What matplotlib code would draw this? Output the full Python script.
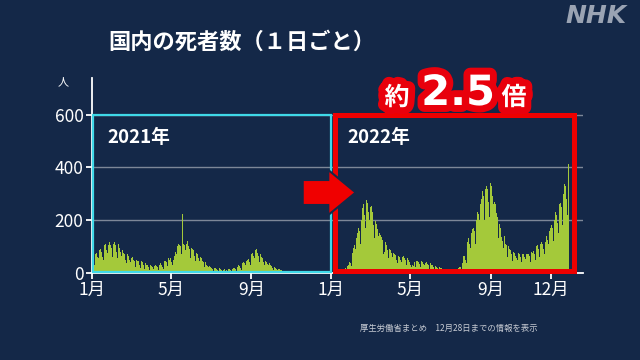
import numpy as np
import matplotlib
matplotlib.use("Agg")
import matplotlib.pyplot as plt
from matplotlib.patches import Rectangle, Polygon
import matplotlib.patheffects as pe

plt.rcParams['font.family'] = ['Noto Sans CJK JP', 'DejaVu Sans']

# daily deaths, one list per month
d2021 = [
    [55,45,40,30,65,70,75,70,60,55,40,85,90,95,80,70,60,50,100,105,110,95,85,75,55,105,115,120,105,95,80],
    [60,110,120,118,105,95,80,55,121,110,95,90,80,65,45,85,80,75,70,60,50,35,65,70,65,60,50,40],
    [25,55,60,55,50,45,35,20,50,55,45,45,40,30,18,45,45,40,35,30,25,15,35,35,30,30,25,20,12,30,28],
    [25,25,20,15,10,25,28,30,25,20,15,10,30,35,35,30,28,20,15,40,45,50,45,40,30,25,55,60,50,55],
    [45,40,30,45,50,65,70,80,70,55,100,110,115,105,100,85,70,225,115,110,105,95,85,60,110,120,115,100,90,80,55],
    [95,100,90,85,75,65,45,80,75,70,65,55,45,30,60,55,50,45,40,30,20,40,35,30,28,25,20,12,25,22],
    [20,18,15,12,8,18,20,17,15,14,10,6,15,16,14,12,10,8,5,12,14,10,8,9,8,6,12,15,14,13,10],
    [8,5,15,18,20,18,15,12,8,20,25,28,25,22,18,12,30,35,40,38,35,28,20,45,50,55,52,45,40,30,60],
    [70,75,70,65,55,40,85,90,80,75,65,55,40,70,65,60,55,45,40,28,50,45,40,38,32,28,18,35,32,28],
    [25,22,18,12,22,20,18,16,14,12,8,14,13,12,10,9,7,4,8,7,6,5,5,4,2,5,4,4,3,3,2],
    [1,3,2,3,2,2,1,0,3,2,2,2,1,1,0,2,2,1,2,1,1,0,1,2,1,2,1,1,0,2],
    [1,2,1,1,0,0,2,1,2,1,1,0,0,2,1,1,1,1,0,0,1,2,1,1,2,1,0,2,1,2,1],
]
d2022 = [
    [1,1,0,2,1,2,3,2,2,1,3,4,5,6,5,4,3,8,12,15,18,16,14,10,25,30,35,40,38,35,25],
    [60,75,95,110,105,90,65,130,150,165,170,160,140,110,200,230,245,260,240,220,170,270,278,265,250,230,200,150],
    [250,255,245,230,210,180,130,200,195,185,180,165,140,100,150,145,140,135,125,105,70,80,110,115,105,100,85,55,95,90,85],
    [80,75,60,40,75,78,72,68,60,50,35,65,62,60,58,50,42,30,58,62,58,55,48,40,28,55,52,50,40,35],
    [30,20,30,28,25,35,40,35,22,45,50,45,42,38,32,20,42,45,40,38,32,28,18,38,40,36,34,30,25,15,35],
    [32,30,28,25,20,12,28,26,24,22,18,15,8,22,20,18,16,14,12,6,15,14,12,11,10,8,5,10,9,10],
    [9,8,6,4,10,12,11,10,9,8,5,14,18,20,22,20,18,12,35,50,62,65,58,50,35,95,115,131,125,110,95],
    [70,150,165,175,170,160,140,110,200,220,230,244,225,200,150,260,280,295,312,290,260,200,320,335,330,320,300,270,210,347,340],
    [330,310,290,260,180,270,260,240,226,210,180,130,190,185,170,155,137,120,80,95,140,125,110,105,95,60,100,95,90,85],
    [80,70,45,80,78,75,72,65,55,35,50,75,78,72,68,60,40,75,72,70,68,60,52,38,70,72,75,70,62,55,40],
    [80,85,75,82,78,70,50,95,100,105,98,90,80,60,110,113,115,110,100,90,70,125,115,140,135,125,110,90,160,170],
    [188,180,170,150,120,200,215,230,220,210,190,150,245,260,270,265,250,230,180,300,310,338,330,310,280,220,345,415],
]
tick_days = [0, 120, 243, 365, 485, 608, 699]
tick_labels = ['1月', '5月', '9月', '1月', '5月', '9月', '12月']
y_ticks = [0, 200, 400, 600]

deaths = [v for m in d2021 + d2022 for v in m]
days = np.arange(len(deaths))

bg = '#142848'
W, H = 640, 360

fig = plt.figure(figsize=(6.4, 3.6), dpi=100)
fig.patch.set_facecolor(bg)
ax = fig.add_axes([92 / W, (H - 272.7) / H, (583 - 92) / W, (272.7 - 78) / H])
ax.set_facecolor(bg)

ax.bar(days, deaths, width=1.0, align='edge', color='#a4c93a', linewidth=0, zorder=2)

ax.set_xlim(0, 748.3)
ax.set_ylim(0, 740)
ax.set_yticks(y_ticks)
ax.set_xticks(tick_days)
ax.set_xticklabels(tick_labels)
for y in y_ticks[1:]:
    ax.axhline(y, color='#7d8798', lw=1, zorder=1)

for s in ['top', 'right']:
    ax.spines[s].set_visible(False)
for s in ['left', 'bottom']:
    ax.spines[s].set_color('white')
    ax.spines[s].set_linewidth(1.3)
ax.tick_params(colors='white', length=4, width=1.3, labelsize=12.5, pad=2)

# year boxes
ax.add_patch(Rectangle((1.5, 1), 362.7, 599, fill=False, ec='#3fd9e8', lw=1.6,
                       zorder=4, clip_on=False))
ax.add_patch(Rectangle((371, 8), 363, 590, fill=False, ec='#ee0000', lw=3.6,
                       zorder=5, clip_on=False))

def fx(x):
    return x / W

def fy(y):
    return 1 - y / H

ax.text(23, 515, '2021年', color='white', fontsize=13.5, fontweight='bold', va='center')
ax.text(389, 515, '2022年', color='white', fontsize=13.5, fontweight='bold', va='center')

# arrow
pts = [(302.7, 180), (328.3, 180), (328.3, 170), (355.7, 192.5), (328.3, 215),
       (328.3, 205), (302.7, 205)]
fig.add_artist(Polygon([(fx(x), fy(y)) for x, y in pts], closed=True,
                       transform=fig.transFigure, fc='#f00000', ec=bg, lw=1.5, zorder=10))

# 約2.5倍
stroke = [pe.withStroke(linewidth=10, foreground='#e8000c')]
fig.text(fx(397), fy(105), '約', color='white', fontsize=18, fontweight='bold',
         ha='center', va='baseline', path_effects=stroke, zorder=11)
fig.text(fx(458), fy(105), '2.5', color='white', fontsize=30, fontweight='bold',
         family='DejaVu Sans', ha='center', va='baseline', path_effects=stroke, zorder=11)
fig.text(fx(514), fy(105), '倍', color='white', fontsize=18, fontweight='bold',
         ha='center', va='baseline', path_effects=stroke, zorder=11)

fig.text(fx(242), fy(42), '国内の死者数（１日ごと）', color='white', fontsize=16,
         fontweight='bold', ha='center', va='center')
fig.text(fx(63), fy(82), '人', color='white', fontsize=8, ha='center', va='center')
fig.text(fx(596), fy(16), 'NHK', color='#9aa3b3', fontsize=18, fontweight='bold',
         style='italic', family='DejaVu Sans', ha='center', va='center')
fig.text(fx(360), fy(328), '厚生労働省まとめ　12月28日までの情報を表示', color='#c8ccd4',
         fontsize=6, ha='left', va='center')

fig.savefig('out.png', dpi=100, facecolor=bg)
